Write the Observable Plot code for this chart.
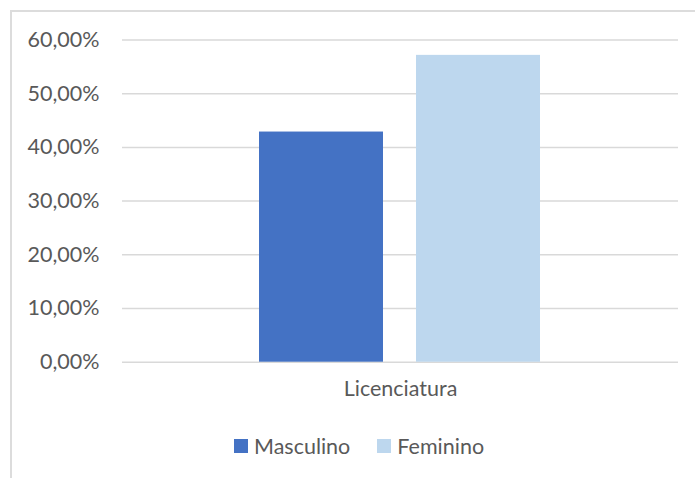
<!DOCTYPE html>
<html>
<head>
<meta charset="utf-8">
<script src="https://cdn.jsdelivr.net/npm/d3@7"></script>
<script src="https://cdn.jsdelivr.net/npm/@observablehq/plot@0.6"></script>
<style>
  html, body { margin: 0; padding: 0; background: #fff; }
  #chart {
    position: relative;
    width: 695px;
    height: 478px;
    overflow: hidden;
    font-family: Lato, "Open Sans", sans-serif;
    color: #595959;
  }
  #frame {
    position: absolute;
    left: 10px;
    top: 10px;
    width: 720px;
    height: 500px;
    border-left: 2px solid #dcdcdc;
    border-top: 2px solid #dcdcdc;
    pointer-events: none;
  }
  #chart svg { display: block; }
  .key {
    display: flex;
    align-items: center;
    margin: 14px 0 0 234px;
    font-size: 21.5px;
    line-height: 24px;
    height: 24px;
  }
  .key-item { display: flex; align-items: center; margin-right: 27px; }
  .key-swatch { width: 14px; height: 14px; margin-right: 6px; flex: none; }
</style>
</head>
<body>
<div id="chart"><div id="frame"></div></div>
<script>
// Share of graduates by sex
const categories = ["Licenciatura"];
const series = ["Masculino", "Feminino"];
const masculino = [0.4286];
const feminino = [0.5714];
const yTicks = [0, 0.1, 0.2, 0.3, 0.4, 0.5, 0.6];
const seriesColors = ["#4472C4", "#BDD7EE"];

const values = {Masculino: masculino, Feminino: feminino};
const rows = [];
categories.forEach((c, i) => {
  series.forEach((s) => rows.push({category: c, series: s, value: values[s][i]}));
});

const pt = d3.formatLocale({decimal: ",", thousands: ".", grouping: [3], currency: ["", " €"]});
const pct = pt.format(".2%");

const chart = Plot.plot({
  width: 695,
  height: 420,
  marginLeft: 122,
  marginRight: 17,
  marginTop: 39.5,
  marginBottom: 58.3,
  style: {fontFamily: "Lato, sans-serif", fontSize: "21.5px", color: "#595959", background: "transparent"},
  fx: {domain: categories, padding: 0, label: null, axis: "bottom", tickSize: 0, tickPadding: 19},
  x: {domain: series, axis: null, paddingInner: 0.209, paddingOuter: 0.864},
  y: {domain: [0, 0.6], ticks: yTicks, tickFormat: pct, label: null, tickSize: 0, tickPadding: 23},
  color: {domain: series, range: seriesColors},
  marks: [
    Plot.gridY(yTicks, {stroke: "#d9d9d9", strokeOpacity: 1, strokeWidth: 1.5}),
    Plot.barY(rows, {fx: "category", x: "series", y: "value", fill: "series"})
  ]
});

const root = document.getElementById("chart");
root.appendChild(chart);

// Series key below the plot, coloured through the chart's own colour scale
const color = chart.scale("color");
const key = d3.select(root).append("div").attr("class", "key");
const item = key.selectAll(".key-item").data(series).join("div").attr("class", "key-item");
item.append("span").attr("class", "key-swatch").style("background", (d) => color.apply(d));
item.append("span").text((d) => d);
</script>
</body>
</html>
